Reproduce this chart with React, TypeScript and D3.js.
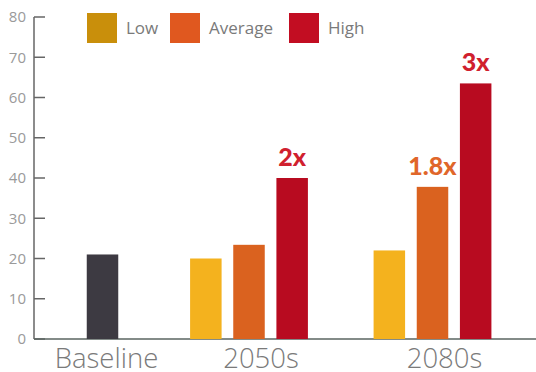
import React from "react";
import * as d3 from "d3";

const categories = ["Baseline", "2050s", "2080s"];
const series = ["Low", "Average", "High"];
const baselineValue = [21];
const lowValues = [20, 22];
const averageValues = [23.4, 37.8];
const highValues = [40, 63.5];
const yTicks = [0, 10, 20, 30, 40, 50, 60, 70, 80];
const annotations = [
  { cat: "2050s", series: "High", text: "2x" },
  { cat: "2080s", series: "Average", text: "1.8x" },
  { cat: "2080s", series: "High", text: "3x" },
];

const W = 536, H = 372;
const barColors: Record<string, string> = { Low: "#f4b21e", Average: "#da621f", High: "#b80b20" };
const legendColors: Record<string, string> = { Low: "#c98f0b", Average: "#e0581f", High: "#c20d22" };
const annColors: Record<string, string> = { Average: "#e0662a", High: "#d0202e" };

export default function App() {
  const y = d3.scaleLinear().domain([0, 80]).range([339, 17]);
  const x = d3.scaleOrdinal<string, number>().domain(categories).range([102.5, 249, 432.5]);
  const sub = d3.scaleBand().domain(series).range([-58.7, 58.7]).paddingInner(0.28).paddingOuter(0);
  const bw = 31.5;
  const future = categories.slice(1).map((c, i) => ({
    cat: c,
    vals: { Low: lowValues[i], Average: averageValues[i], High: highValues[i] } as Record<string, number>,
  }));
  const subCenter = (s: string) => (sub(s) as number) + sub.bandwidth() / 2;
  const font = "'Open Sans', 'Lato', sans-serif";
  const boldFont = "'Lato', 'Open Sans', sans-serif";
  return (
    <svg width={W} height={H} style={{ position: "absolute", left: 0, top: 0, background: "#fff" }}>
      <line x1={34} x2={34} y1={y(80)} y2={y(0)} stroke="#666" strokeWidth={1.5} />
      {yTicks.map((t) => (
        <g key={t}>
          <line x1={34} x2={45} y1={y(t)} y2={y(t)} stroke="#666" strokeWidth={1.5} />
          <text x={26} y={y(t)} dy="0.35em" textAnchor="end" fontSize={15} fill="#9a9a9a" fontFamily={font}>
            {t}
          </text>
        </g>
      ))}
      <line x1={34} x2={W} y1={y(0)} y2={y(0)} stroke="#5a6460" strokeWidth={1.5} />
      <rect x={x("Baseline") - bw / 2} y={y(baselineValue[0])} width={bw} height={y(0) - y(baselineValue[0])} fill="#3d3a42" />
      {future.map((g) =>
        series.map((s) => (
          <rect
            key={g.cat + s}
            x={x(g.cat) + subCenter(s) - bw / 2}
            y={y(g.vals[s])}
            width={bw}
            height={y(0) - y(g.vals[s])}
            fill={barColors[s]}
          />
        ))
      )}
      {annotations.map((a) => {
        const g = future.find((f) => f.cat === a.cat)!;
        return (
          <text
            key={a.text}
            x={x(a.cat) + subCenter(a.series)}
            y={y(g.vals[a.series]) - 12}
            textAnchor="middle"
            fontSize={25}
            fontWeight={900}
            fill={annColors[a.series]}
            fontFamily={boldFont}
          >
            {a.text}
          </text>
        );
      })}
      {categories.map((c) => (
        <text key={c} x={x(c) + (c === "Baseline" ? 4 : 12)} y={368} textAnchor="middle" fontSize={27.5} fontWeight={300} fill="#7a7a7a" fontFamily={font}>
          {c}
        </text>
      ))}
      {series.map((s, i) => {
        const lx = [87, 170, 289][i];
        return (
          <g key={s}>
            <rect x={lx} y={13} width={30} height={30} fill={legendColors[s]} />
            <text x={lx + 39} y={28} dy="0.35em" fontSize={17} fill="#7a7a7a" fontFamily={font}>
              {s}
            </text>
          </g>
        );
      })}
    </svg>
  );
}
